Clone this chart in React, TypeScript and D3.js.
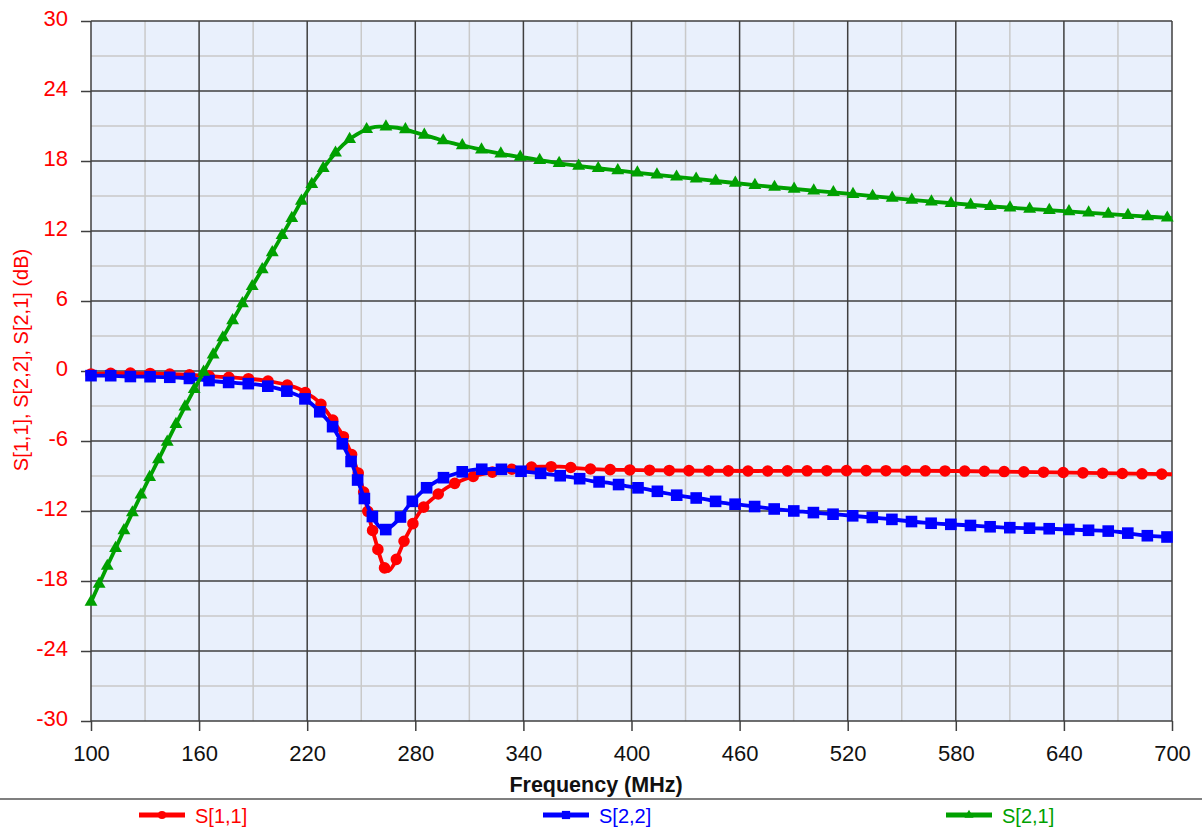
import React, { useEffect, useRef } from "react";
import * as d3 from "d3";

const xTicks = [100, 160, 220, 280, 340, 400, 460, 520, 580, 640, 700];
const yTicks = [-30, -24, -18, -12, -6, 0, 6, 12, 18, 24, 30];

const s11Freq = [100, 110, 120, 130, 140, 150, 160, 170, 180, 190, 200, 210, 215, 220, 225, 230, 235, 240, 245, 248, 250, 252, 254, 256, 258, 260, 262, 265, 268, 271, 274, 277, 280, 285, 290, 297, 307, 317, 328, 338, 350, 360, 371, 382, 404, 440, 470, 525, 580, 635, 670, 700];
const s11Db = [-0.25, -0.2, -0.18, -0.2, -0.24, -0.3, -0.38, -0.48, -0.57, -0.7, -0.9, -1.25, -1.5, -1.95, -2.45, -3.3, -4.4, -5.6, -7.3, -8.6, -9.6, -10.8, -12.3, -13.5, -14.6, -15.7, -16.6, -17.15, -16.6, -15.6, -14.5, -13.6, -12.7, -11.6, -10.9, -10.05, -9.3, -8.85, -8.54, -8.34, -8.2, -8.2, -8.34, -8.43, -8.49, -8.55, -8.57, -8.54, -8.57, -8.69, -8.78, -8.85];

const s22Freq = [100, 110, 120, 130, 140, 150, 160, 170, 180, 190, 200, 210, 220, 227, 234, 240, 245, 249, 253, 258, 263, 270, 276, 284, 293, 303, 313, 324, 335, 346, 357, 368, 378, 389, 399, 409, 420, 430, 440, 451, 462, 473, 484, 495, 506, 517, 539, 562, 584, 605, 628, 650, 671, 682, 700];
const s22Db = [-0.4, -0.4, -0.47, -0.48, -0.52, -0.58, -0.72, -0.9, -1.02, -1.12, -1.36, -1.8, -2.52, -3.5, -4.75, -6.4, -8.0, -9.8, -11.4, -12.95, -13.6, -12.85, -11.6, -10.3, -9.34, -8.77, -8.45, -8.4, -8.54, -8.71, -8.91, -9.14, -9.43, -9.63, -9.91, -10.14, -10.5, -10.77, -10.97, -11.3, -11.49, -11.71, -11.91, -12.06, -12.2, -12.34, -12.63, -13.0, -13.2, -13.4, -13.5, -13.63, -13.8, -14.05, -14.25];

const s21Freq = [100, 110, 120, 130, 140, 150, 160, 170, 180, 190, 200, 210, 220, 230, 240, 250, 260, 270, 280, 290, 300, 310, 320, 330, 340, 360, 380, 400, 440, 480, 520, 560, 600, 640, 680, 700];
const s21Db = [-19.8, -16.4, -13.1, -9.9, -6.8, -3.7, -0.8, 2.0, 4.7, 7.4, 10.0, 12.7, 15.4, 17.6, 19.4, 20.5, 20.95, 20.85, 20.45, 20.0, 19.55, 19.2, 18.85, 18.55, 18.3, 17.8, 17.4, 17.05, 16.4, 15.75, 15.2, 14.6, 14.1, 13.7, 13.3, 13.1];

const seriesNames = ["S[1,1]", "S[2,2]", "S[2,1]"];
const seriesColors = ["#ff0000", "#0000ff", "#00a000"];
const legendX = [139, 543, 946];

const W = 1202;
const H = 831;
const FONT = "'Liberation Sans', Arial, sans-serif";

export default function App() {
  const ref = useRef<SVGSVGElement>(null);

  useEffect(() => {
    const svg = d3.select(ref.current as SVGSVGElement);
    svg.selectAll("*").remove();

    const x = d3.scaleLinear().domain([100, 700]).range([91, 1172]);
    const y = d3.scaleLinear().domain([-30, 30]).range([721, 21]);

    svg.append("rect").attr("width", W).attr("height", H).attr("fill", "#ffffff");
    svg
      .append("rect")
      .attr("x", x(100))
      .attr("y", y(30))
      .attr("width", x(700) - x(100))
      .attr("height", y(-30) - y(30))
      .attr("fill", "#e9f0fc");

    const minorX = d3.pairs(xTicks).map(([a, b]) => (a + b) / 2);
    const minorY = d3.pairs(yTicks).map(([a, b]) => (a + b) / 2);
    const grid = svg.append("g");
    grid
      .selectAll("line.mx")
      .data(minorX)
      .join("line")
      .attr("x1", (d) => x(d))
      .attr("x2", (d) => x(d))
      .attr("y1", y(30))
      .attr("y2", y(-30))
      .attr("stroke", "#c9c9c9")
      .attr("stroke-width", 1.5);
    grid
      .selectAll("line.my")
      .data(minorY)
      .join("line")
      .attr("y1", (d) => y(d))
      .attr("y2", (d) => y(d))
      .attr("x1", x(100))
      .attr("x2", x(700))
      .attr("stroke", "#c9c9c9")
      .attr("stroke-width", 1.5);
    grid
      .selectAll("line.Mx")
      .data(xTicks)
      .join("line")
      .attr("x1", (d) => x(d))
      .attr("x2", (d) => x(d))
      .attr("y1", y(30))
      .attr("y2", y(-30))
      .attr("stroke", "#3f3f3f")
      .attr("stroke-width", 1.5);
    grid
      .selectAll("line.My")
      .data(yTicks)
      .join("line")
      .attr("y1", (d) => y(d))
      .attr("y2", (d) => y(d))
      .attr("x1", x(100))
      .attr("x2", x(700))
      .attr("stroke", "#3f3f3f")
      .attr("stroke-width", 1.5);

    const yAxis = svg
      .append("g")
      .attr("transform", `translate(${x(100)},0)`)
      .call(d3.axisLeft(y).tickValues(yTicks).tickSize(10).tickPadding(13).tickFormat((d) => String(d)));
    yAxis.select(".domain").remove();
    yAxis.selectAll(".tick line").attr("stroke", "#3f3f3f").attr("stroke-width", 1.5);
    yAxis
      .selectAll(".tick text")
      .attr("fill", "#ff0000")
      .attr("font-family", FONT)
      .attr("font-size", 22)
      .attr("dy", "0.2em");

    const xAxis = svg
      .append("g")
      .attr("transform", `translate(0,${y(-30)})`)
      .call(d3.axisBottom(x).tickValues(xTicks).tickSize(10).tickPadding(14).tickFormat((d) => String(d)));
    xAxis.select(".domain").remove();
    xAxis.selectAll(".tick line").attr("stroke", "#3f3f3f").attr("stroke-width", 1.5);
    xAxis
      .selectAll(".tick text")
      .attr("fill", "#111")
      .attr("font-family", FONT)
      .attr("font-size", 22);

    svg
      .append("text")
      .attr("x", 596)
      .attr("y", 792)
      .attr("text-anchor", "middle")
      .attr("font-family", FONT)
      .attr("font-size", 21.5)
      .attr("font-weight", "bold")
      .attr("fill", "#111")
      .text("Frequency (MHz)");

    svg
      .append("text")
      .attr("transform", `translate(28,360) rotate(-90)`)
      .attr("text-anchor", "middle")
      .attr("font-family", FONT)
      .attr("font-size", 20)
      .attr("fill", "#ff0000")
      .text("S[1,1], S[2,2], S[2,1] (dB)");

    const series = [
      { f: s11Freq, v: s11Db, sym: d3.symbolCircle, size: 105 },
      { f: s22Freq, v: s22Db, sym: d3.symbolSquare, size: 135 },
      { f: s21Freq, v: s21Db, sym: d3.symbolTriangle, size: 72 },
    ];
    const line = d3
      .line<[number, number]>()
      .x((d) => x(d[0]))
      .y((d) => y(d[1]))
      .curve(d3.curveMonotoneX);
    const SPACING = 19.7;

    series.forEach((s, i) => {
      const pts: [number, number][] = s.f.map((f, j) => [f, s.v[j]]);
      const g = svg.append("g");
      const path = g
        .append("path")
        .attr("d", line(pts) as string)
        .attr("fill", "none")
        .attr("stroke", seriesColors[i])
        .attr("stroke-width", 3.8)
        .attr("stroke-linejoin", "round");
      const node = path.node() as SVGPathElement;
      const L = node.getTotalLength();
      const marks = d3.range(0, L - 4, SPACING).map((l) => node.getPointAtLength(l));
      g.selectAll("path.m")
        .data(marks)
        .join("path")
        .attr("transform", (p) => `translate(${p.x},${p.y})`)
        .attr("d", d3.symbol().type(s.sym).size(s.size)() as string)
        .attr("fill", seriesColors[i]);
    });

    svg
      .append("line")
      .attr("x1", 0)
      .attr("x2", W)
      .attr("y1", 799)
      .attr("y2", 799)
      .attr("stroke", "#555")
      .attr("stroke-width", 1.5);
    const lg = svg
      .selectAll("g.leg")
      .data(seriesNames)
      .join("g")
      .attr("transform", (_d, i) => `translate(${legendX[i]},815)`);
    lg.append("line")
      .attr("x1", 0)
      .attr("x2", 46)
      .attr("stroke", (_d, i) => seriesColors[i])
      .attr("stroke-width", 5);
    lg.append("path")
      .attr("transform", "translate(23,0)")
      .attr("d", (_d, i) => d3.symbol().type(series[i].sym).size(series[i].size * 0.5)() as string)
      .attr("fill", (_d, i) => seriesColors[i]);
    lg.append("text")
      .attr("x", 56)
      .attr("y", 7.5)
      .attr("font-family", FONT)
      .attr("font-size", 20)
      .attr("fill", (_d, i) => seriesColors[i])
      .text((d) => d);
  }, []);

  return (
    <svg
      ref={ref}
      width={W}
      height={H}
      style={{ position: "absolute", left: 0, top: 0, display: "block" }}
    />
  );
}
